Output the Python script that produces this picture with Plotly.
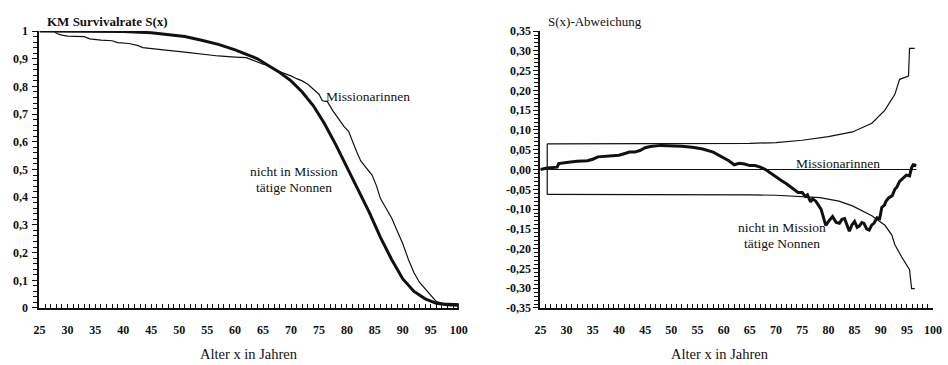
import plotly.graph_objects as go

W, H = 948, 365

# ---- Left panel: Kaplan-Meier survival rates ----
mis_x = [25, 27.5, 28.2, 29, 30, 33, 34, 36, 38, 39, 41, 42.5, 43.5, 45, 48, 51, 54, 57, 60, 62,
         63, 64, 65, 66, 67, 68, 69, 70, 71, 72, 73, 74, 75, 75.6, 76.5, 77.5, 78.5, 79.5, 80.3,
         81, 81.7, 82.5, 83.6, 84.5, 85.3, 86, 87, 88, 89, 90, 91, 92, 93, 94, 95, 96, 97, 99, 100, 100]
mis_s = [1.0, 1.0, 0.99, 0.985, 0.982, 0.98, 0.972, 0.967, 0.965, 0.958, 0.955, 0.948, 0.94, 0.936,
         0.93, 0.924, 0.916, 0.91, 0.906, 0.904, 0.896, 0.888, 0.88, 0.876, 0.862, 0.853, 0.846,
         0.838, 0.828, 0.82, 0.808, 0.79, 0.772, 0.748, 0.745, 0.712, 0.685, 0.655, 0.638, 0.6,
         0.566, 0.53, 0.5, 0.48, 0.44, 0.395, 0.36, 0.325, 0.278, 0.232, 0.175, 0.127, 0.092,
         0.069, 0.046, 0.023, 0.018, 0.016, 0.015, 0.0]

non_x = [25, 35, 40, 45, 48, 51, 54, 57, 60, 62, 64, 66, 68, 70, 72, 74, 76, 78, 80, 82, 84,
         86, 88, 90, 92, 94, 96, 98, 100, 100]
non_s = [1.0, 1.0, 0.998, 0.994, 0.988, 0.98, 0.967, 0.952, 0.932, 0.915, 0.9, 0.875, 0.85,
         0.82, 0.78, 0.73, 0.665, 0.59, 0.51, 0.43, 0.345, 0.255, 0.175, 0.105, 0.06, 0.033,
         0.017, 0.012, 0.01, 0.0]

# ---- Right panel: deviation with band ----
dev_x = [25, 26.3, 28.2, 28.5, 30, 32, 34, 35, 36, 38, 40, 41, 42, 43, 44, 45, 46, 48, 50, 52,
         54, 56, 58, 60, 61, 62, 63, 64, 65, 66, 67, 68, 69, 70, 71, 72, 73, 73.6, 74.2, 75, 75.6,
         76, 76.6, 77, 77.6, 78.6, 79.5, 80.2, 80.8, 81.5, 82.1, 82.6, 83.1, 84, 84.5, 85, 85.5,
         85.9, 86.4, 86.8, 87.3, 87.8, 88.3, 88.7, 89.3, 89.8, 90.2, 90.7, 91, 91.5, 91.9, 92.2,
         92.7, 93.1, 93.6, 94.2, 94.9, 95.5, 95.9, 96.2, 96.8]
dev_y = [0.0, 0.004, 0.006, 0.015, 0.018, 0.021, 0.022, 0.026, 0.032, 0.034, 0.036, 0.04, 0.044,
         0.044, 0.048, 0.055, 0.058, 0.061, 0.06, 0.059, 0.056, 0.052, 0.044, 0.03, 0.022, 0.012,
         0.016, 0.014, 0.01, 0.01, 0.006, 0.0, -0.01, -0.02, -0.028, -0.036, -0.046, -0.05, -0.058,
         -0.058, -0.068, -0.064, -0.082, -0.074, -0.08, -0.1, -0.141, -0.128, -0.119, -0.134,
         -0.136, -0.126, -0.124, -0.156, -0.14, -0.131, -0.146, -0.143, -0.134, -0.136, -0.15,
         -0.153, -0.14, -0.136, -0.122, -0.124, -0.096, -0.09, -0.08, -0.072, -0.068, -0.066,
         -0.05, -0.044, -0.03, -0.022, -0.014, -0.016, 0.005, 0.012, 0.01]

ref_x = [25, 96.8]
ref_y = [0.0, 0.0]

up_x = [26.3, 40, 55, 65, 70, 75, 80, 84.6, 88.3, 90.8, 92.7, 93.6, 95.3, 95.5, 96.5]
up_y = [0.065, 0.065, 0.065, 0.066, 0.068, 0.074, 0.083, 0.095, 0.117, 0.15, 0.19, 0.228,
        0.236, 0.306, 0.306]
lo_x = [26.3, 40, 55, 65, 70, 75, 78.4, 82, 84.6, 88.3, 90.8, 92.1, 92.7, 94, 95.5, 95.9, 96.5]
lo_y = [-0.063, -0.063, -0.063, -0.064, -0.065, -0.068, -0.071, -0.08, -0.092, -0.117, -0.141,
        -0.165, -0.19, -0.221, -0.253, -0.301, -0.301]

left_yticks = [0, 0.1, 0.2, 0.3, 0.4, 0.5, 0.6, 0.7, 0.8, 0.9, 1.0]
left_ylabels = ["0", "0,1", "0,2", "0,3", "0,4", "0,5", "0,6", "0,7", "0,8", "0,9", "1"]
right_yticks = [-0.35, -0.3, -0.25, -0.2, -0.15, -0.1, -0.05, 0, 0.05, 0.1, 0.15, 0.2, 0.25, 0.3, 0.35]
right_ylabels = ["-0,35", "-0,30", "-0,25", "-0,20", "-0,15", "-0,10", "-0,05", "0,00",
                 "0,05", "0,10", "0,15", "0,20", "0,25", "0,30", "0,35"]
xticks = list(range(25, 101, 5))

FONT = "'Liberation Serif', 'Times New Roman', 'DejaVu Serif', serif"
INK = "#111111"

fig = go.Figure()
thin = dict(color=INK, width=1.2)
thick = dict(color=INK, width=3)

fig.add_trace(go.Scatter(x=mis_x, y=mis_s, mode="lines", line=thin, xaxis="x", yaxis="y"))
fig.add_trace(go.Scatter(x=non_x, y=non_s, mode="lines", line=thick, xaxis="x", yaxis="y"))

fig.add_trace(go.Scatter(x=ref_x, y=ref_y, mode="lines", line=thin, xaxis="x2", yaxis="y2"))
fig.add_trace(go.Scatter(x=up_x, y=up_y, mode="lines", line=thin, xaxis="x2", yaxis="y2"))
fig.add_trace(go.Scatter(x=lo_x, y=lo_y, mode="lines", line=thin, xaxis="x2", yaxis="y2"))
fig.add_trace(go.Scatter(x=[up_x[0], lo_x[0]], y=[up_y[0], lo_y[0]], mode="lines", line=thin,
                         xaxis="x2", yaxis="y2"))
fig.add_trace(go.Scatter(x=dev_x, y=dev_y, mode="lines", line=thick, xaxis="x2", yaxis="y2"))

def px_x(p):
    return p / W

def px_y(p):
    return 1 - p / H

tickfont = dict(family=FONT, size=12, color=INK, weight="bold")
common_x = dict(range=[25, 100], tickvals=xticks, ticks="inside", ticklen=4, tickwidth=1,
                tickcolor=INK, showline=True, linecolor=INK, linewidth=2, showgrid=False,
                zeroline=False, tickfont=tickfont, fixedrange=True, ticklabelstandoff=10,
                minor=dict(dtick=1, ticks="inside", ticklen=4, tickwidth=1, tickcolor=INK,
                           showgrid=False))

fig.update_layout(
    width=W, height=H, margin=dict(l=0, r=0, t=0, b=0),
    paper_bgcolor="white", plot_bgcolor="white", showlegend=False,
    font=dict(family=FONT, color=INK),
    xaxis=dict(domain=[px_x(34), px_x(460)], anchor="y", **common_x),
    yaxis=dict(domain=[px_y(313), px_y(25)], anchor="x", range=[0, 1],
               tickvals=left_yticks, ticktext=left_ylabels, ticks="outside", ticklen=5,
               tickcolor=INK, showline=True, linecolor=INK, linewidth=2, showgrid=False,
               zeroline=False, tickfont=tickfont, ticklabelstandoff=2,
               minor=dict(dtick=0.02, ticks="outside", ticklen=4, tickwidth=1, tickcolor=INK,
                          showgrid=False)),
    xaxis2=dict(domain=[px_x(543), px_x(942)], anchor="y2", **common_x),
    yaxis2=dict(domain=[px_y(313), px_y(25)], anchor="x2", range=[-0.35, 0.35],
                tickvals=right_yticks, ticktext=right_ylabels, ticks="outside", ticklen=5,
                tickcolor=INK, showline=True, linecolor=INK, linewidth=2, showgrid=False,
                zeroline=False, tickfont=tickfont,
                minor=dict(dtick=0.01, ticks="outside", ticklen=4, tickwidth=1, tickcolor=INK,
                           showgrid=False)),
)

lab = dict(family=FONT, size=13.5, color=INK)
ann = [
    dict(text="KM Survivalrate S(x)", xref="paper", yref="paper", x=px_x(40), y=px_y(15),
         xanchor="left", yanchor="middle", showarrow=False,
         font=dict(family=FONT, size=13, color=INK, weight="bold")),
    dict(text="S(x)-Abweichung", xref="paper", yref="paper", x=px_x(549), y=px_y(15),
         xanchor="left", yanchor="middle", showarrow=False,
         font=dict(family=FONT, size=13, color=INK)),
    dict(text="Alter x in Jahren", xref="paper", yref="paper", x=px_x(247), y=px_y(361),
         xanchor="center", yanchor="middle", showarrow=False, font=dict(family=FONT, size=14.5, color=INK)),
    dict(text="Alter x in Jahren", xref="paper", yref="paper", x=px_x(725), y=px_y(361),
         xanchor="center", yanchor="middle", showarrow=False, font=dict(family=FONT, size=14.5, color=INK)),
    dict(text="Missionarinnen", xref="x", yref="y", x=75.9, y=0.764, xanchor="left",
         yanchor="middle", showarrow=False, font=lab),
    dict(text="nicht in Mission", xref="x", yref="y", x=70.6, y=0.493, xanchor="center",
         yanchor="middle", showarrow=False, font=lab),
    dict(text="tätige Nonnen", xref="x", yref="y", x=70.6, y=0.434, xanchor="center",
         yanchor="middle", showarrow=False, font=lab),
    dict(text="Missionarinnen", xref="x2", yref="y2", x=81.8, y=0.016, xanchor="center",
         yanchor="middle", showarrow=False, font=lab),
    dict(text="nicht in Mission", xref="x2", yref="y2", x=71.05, y=-0.146, xanchor="center",
         yanchor="middle", showarrow=False, font=lab),
    dict(text="tätige Nonnen", xref="x2", yref="y2", x=71.05, y=-0.187, xanchor="center",
         yanchor="middle", showarrow=False, font=lab),
]
fig.update_layout(annotations=ann)

fig.write_html("out.html")
